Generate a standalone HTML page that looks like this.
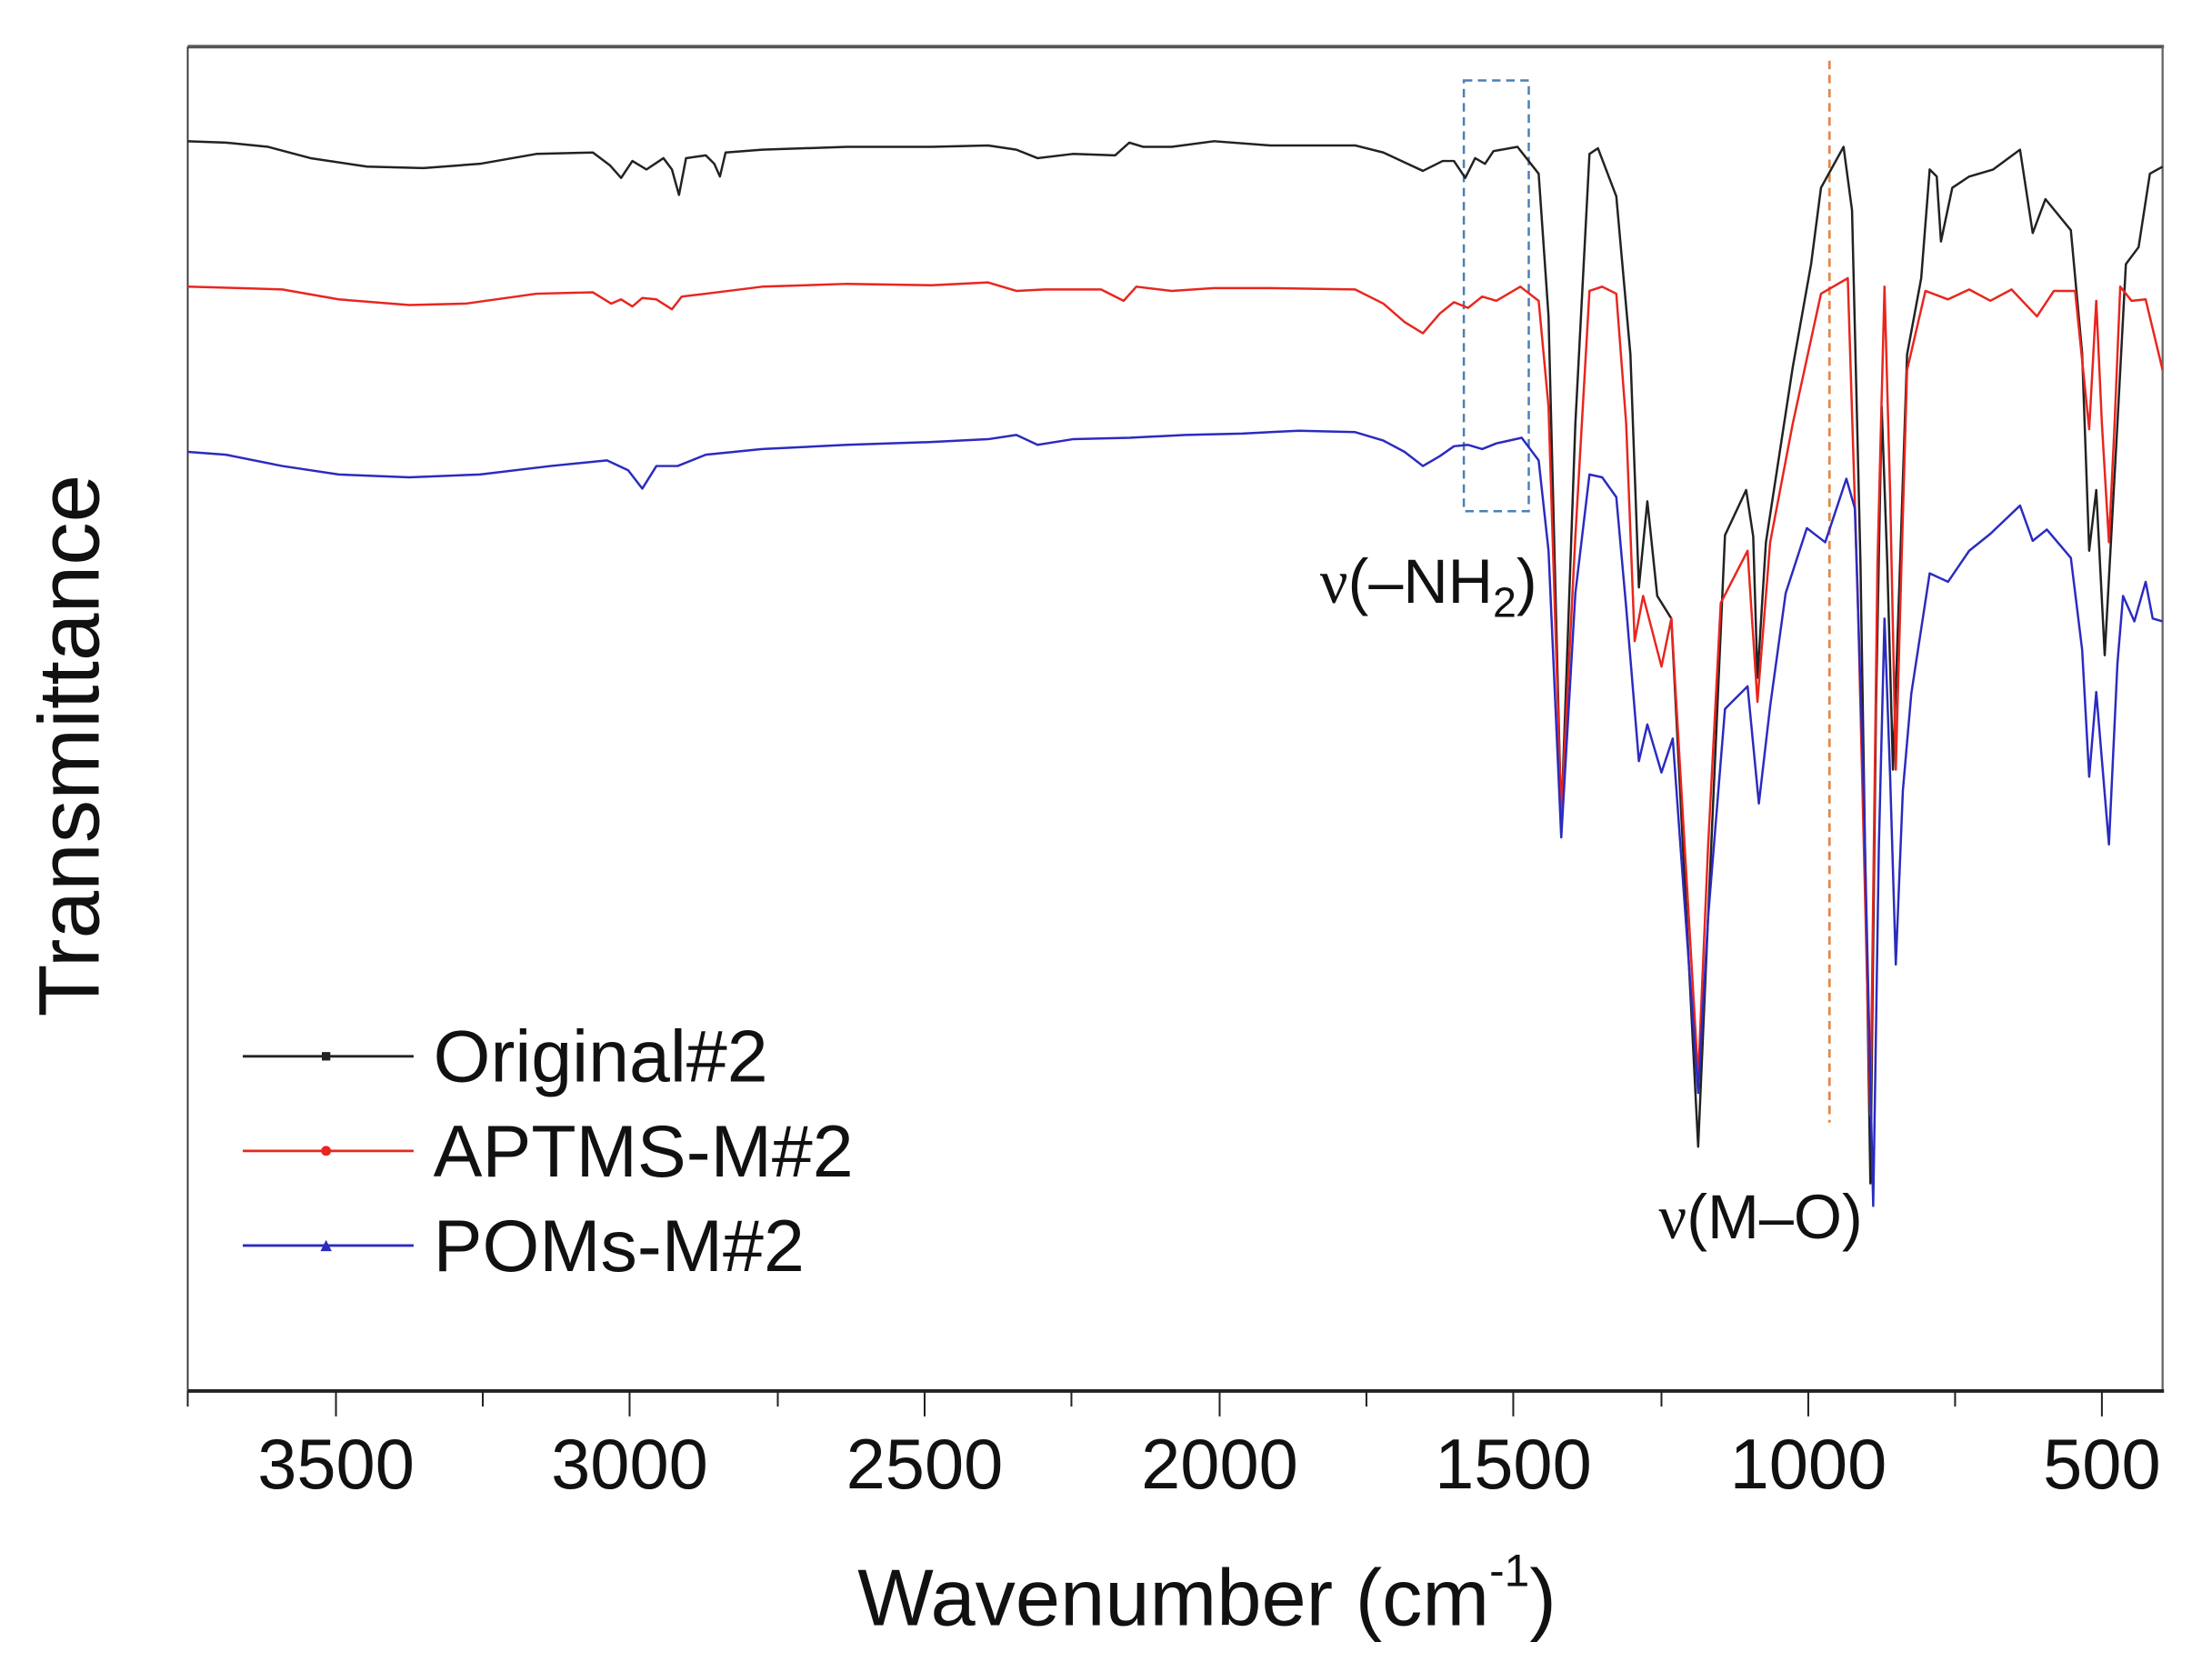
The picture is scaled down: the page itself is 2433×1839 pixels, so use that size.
<!DOCTYPE html>
<html><head><style>html,body{margin:0;padding:0;background:#fff}svg{display:block}</style></head>
<body>
<svg width="2433" height="1839" viewBox="0 0 1567 1184" preserveAspectRatio="none" xmlns="http://www.w3.org/2000/svg" font-family="Liberation Sans, Arial, sans-serif">
<rect width="1567" height="1184" fill="#fff"/>
<!-- frame -->
<line x1="133" y1="33" x2="1533" y2="33" stroke="#555" stroke-width="2.5"/>
<line x1="133" y1="33" x2="133" y2="985" stroke="#333" stroke-width="1.2"/>
<line x1="1532" y1="33" x2="1532" y2="985" stroke="#666" stroke-width="1.5"/>
<line x1="133" y1="985" x2="1533" y2="985" stroke="#222" stroke-width="2.5"/>
<g stroke="#222" stroke-width="1.3">
<line x1="133" y1="985" x2="133" y2="996"/>
<line x1="238" y1="985" x2="238" y2="1003"/><line x1="342" y1="985" x2="342" y2="996"/>
<line x1="446" y1="985" x2="446" y2="1003"/><line x1="551" y1="985" x2="551" y2="996"/>
<line x1="655" y1="985" x2="655" y2="1003"/><line x1="759" y1="985" x2="759" y2="996"/>
<line x1="864" y1="985" x2="864" y2="1003"/><line x1="968" y1="985" x2="968" y2="996"/>
<line x1="1072" y1="985" x2="1072" y2="1003"/><line x1="1177" y1="985" x2="1177" y2="996"/>
<line x1="1281" y1="985" x2="1281" y2="1003"/><line x1="1385" y1="985" x2="1385" y2="996"/>
<line x1="1489" y1="985" x2="1489" y2="1003"/>
</g>
<g font-size="50" text-anchor="middle" fill="#111">
<text x="238" y="1054">3500</text><text x="446" y="1054">3000</text><text x="655" y="1054">2500</text>
<text x="864" y="1054">2000</text><text x="1072" y="1054">1500</text><text x="1281" y="1054">1000</text><text x="1489" y="1054">500</text>
</g>
<text x="855" y="1151" font-size="57" text-anchor="middle" fill="#111">Wavenumber (cm<tspan font-size="32" dy="-28">-1</tspan><tspan dy="28">)</tspan></text>
<text transform="translate(70,528) rotate(-90)" font-size="61" text-anchor="middle" fill="#111">Transmittance</text>
<!-- annotations -->
<rect x="1037" y="57" width="46" height="305" fill="none" stroke="#4a7fb5" stroke-width="1.6" stroke-dasharray="6,4"/>
<line x1="1296" y1="43" x2="1296" y2="795" stroke="#e0894a" stroke-width="1.8" stroke-dasharray="6,4"/>
<text x="935" y="427" font-size="44" fill="#111"><tspan font-family="Liberation Serif, serif">ν</tspan>(–NH<tspan font-size="30" dy="10">2</tspan><tspan dy="-10">)</tspan></text>
<text x="1175" y="877" font-size="44" fill="#111"><tspan font-family="Liberation Serif, serif">ν</tspan>(M–O)</text>
<!-- series -->
<g fill="none" stroke-width="1.6" stroke-linejoin="round">
<path stroke="#222" d="M133,100 L160,101 L190,104 L220,112 L260,118 L300,119 L340,116 L380,109 L420,108 L432,117 L440,126 L448,114 L458,120 L470,112 L476,120 L481,138 L486,112 L500,110 L506,116 L510,125 L514,108 L540,106 L600,104 L660,104 L700,103 L720,106 L735,112 L760,109 L790,110 L800,101 L810,104 L830,104 L860,100 L900,103 L960,103 L980,108 L995,115 L1008,121 L1022,114 L1030,114 L1038,126 L1045,112 L1052,116 L1058,107 L1075,104 L1090,123 L1097,224 L1106,582 L1116,300 L1126,109 L1132,105 L1145,139 L1155,251 L1161,416 L1167,355 L1174,422 L1184,438 L1203,812 L1210,650 L1222,379 L1237,347 L1242,380 L1245,480 L1251,384 L1270,260 L1283,187 L1290,133 L1306,104 L1312,149 L1318,400 L1325,838 L1329,500 L1333,288 L1337,400 L1341,545 L1346,400 L1351,251 L1361,197 L1367,120 L1372,125 L1375,171 L1383,133 L1395,125 L1412,120 L1431,106 L1440,165 L1449,141 L1467,163 L1475,250 L1480,390 L1485,347 L1491,464 L1500,300 L1506,187 L1515,175 L1523,123 L1532,118"/>
<path stroke="#e8261f" d="M133,203 L170,204 L200,205 L240,212 L290,216 L330,215 L380,208 L420,207 L433,215 L440,212 L448,217 L455,211 L465,212 L476,219 L483,210 L500,208 L540,203 L600,201 L660,202 L700,200 L720,206 L740,205 L780,205 L796,213 L805,203 L830,206 L860,204 L900,204 L960,205 L980,215 L995,228 L1008,236 L1020,222 L1030,214 L1040,218 L1050,210 L1060,213 L1077,203 L1090,213 L1097,288 L1106,577 L1116,380 L1126,206 L1135,203 L1145,208 L1152,300 L1158,454 L1164,422 L1177,472 L1184,438 L1203,763 L1210,600 L1219,427 L1238,390 L1245,497 L1254,384 L1270,300 L1290,208 L1309,197 L1316,420 L1325,790 L1330,400 L1335,203 L1339,350 L1343,545 L1347,400 L1351,262 L1364,206 L1380,212 L1395,205 L1410,213 L1425,205 L1443,224 L1455,206 L1470,206 L1480,304 L1485,213 L1489,300 L1494,384 L1498,300 L1502,203 L1510,213 L1520,212 L1532,262"/>
<path stroke="#2b2bc0" d="M133,320 L160,322 L200,330 L240,336 L290,338 L340,336 L390,330 L430,326 L445,333 L455,346 L465,330 L480,330 L500,322 L540,318 L600,315 L660,313 L700,311 L720,308 L735,315 L760,311 L800,310 L840,308 L880,307 L920,305 L960,306 L980,312 L995,320 L1008,330 L1020,323 L1030,316 L1040,315 L1050,318 L1060,314 L1078,310 L1090,326 L1097,390 L1106,593 L1116,420 L1126,336 L1135,338 L1145,352 L1152,430 L1161,539 L1167,513 L1177,547 L1185,523 L1203,774 L1210,650 L1222,502 L1238,486 L1246,569 L1254,500 L1265,420 L1280,374 L1293,384 L1308,339 L1314,360 L1320,550 L1327,854 L1331,600 L1335,438 L1339,550 L1343,683 L1348,560 L1354,491 L1367,406 L1380,412 L1395,390 L1410,378 L1431,358 L1440,383 L1450,375 L1467,395 L1475,460 L1480,550 L1485,490 L1494,598 L1500,470 L1504,422 L1512,440 L1520,412 L1525,438 L1532,440"/>
</g>
<!-- legend -->
<g font-size="52" fill="#111">
<line x1="172" y1="748" x2="293" y2="748" stroke="#222" stroke-width="1.8"/><rect x="228" y="745" width="6" height="6" fill="#222"/>
<text x="307" y="766">Original#2</text>
<line x1="172" y1="815" x2="293" y2="815" stroke="#e8261f" stroke-width="1.8"/><circle cx="231" cy="815" r="3.5" fill="#e8261f"/>
<text x="307" y="833">APTMS-M#2</text>
<line x1="172" y1="882" x2="293" y2="882" stroke="#2b2bc0" stroke-width="1.8"/><polygon points="227,886 235,886 231,878" fill="#2b2bc0"/>
<text x="307" y="900">POMs-M#2</text>
</g>
</svg>
</body></html>
